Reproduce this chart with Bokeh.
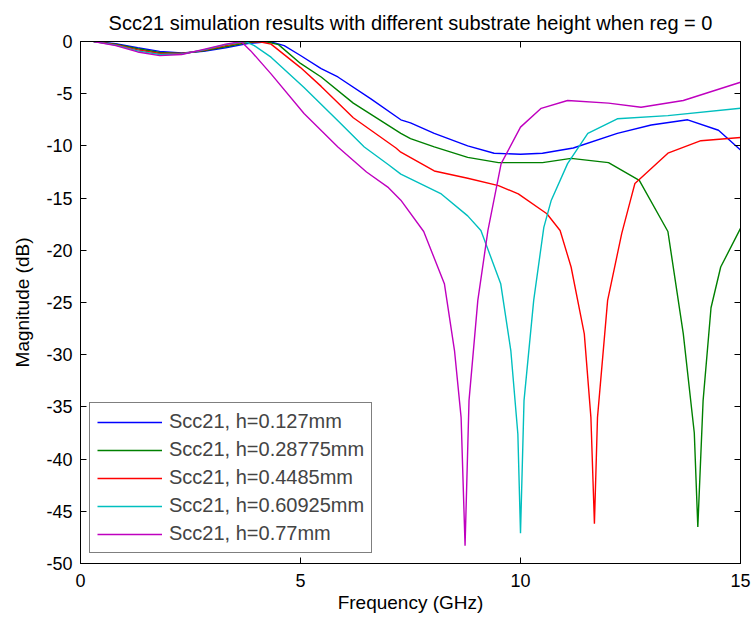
from bokeh.plotting import figure
from bokeh.models import LinearAxis, Legend, LegendItem, FixedTicker, Range1d
from bokeh.embed import file_html
from bokeh.resources import INLINE

# ---- data ----
f_blue = [0.3, 0.8, 1.3, 1.8, 2.3, 2.8, 3.3, 3.8, 4.3, 4.63, 5.0, 5.47, 5.85, 6.6, 7.28, 7.5, 8.04, 8.8, 9.4, 10.0, 10.5, 11.2, 12.2, 12.97, 13.8, 14.5, 15.0]
m_blue = [0, -0.2, -0.6, -0.95, -1.1, -0.95, -0.6, -0.2, 0, -0.4, -1.34, -2.6, -3.4, -5.5, -7.5, -7.8, -8.8, -10.0, -10.7, -10.8, -10.7, -10.2, -8.8, -8.0, -7.5, -8.5, -10.4]

f_green = [0.3, 0.8, 1.3, 1.8, 2.3, 2.8, 3.3, 3.8, 4.2, 4.5, 5.0, 5.47, 6.2, 7.28, 7.5, 8.04, 8.8, 9.5, 10.5, 11.15, 12.0, 12.7, 13.35, 13.7, 13.95, 14.03, 14.15, 14.33, 14.55, 15.0]
m_green = [0, -0.25, -0.7, -1.05, -1.15, -0.9, -0.5, -0.1, 0, -0.3, -2.1, -3.4, -5.9, -8.8, -9.3, -10.1, -11.1, -11.6, -11.6, -11.2, -11.6, -13.3, -18.2, -28.0, -37.5, -46.5, -34.4, -25.5, -21.6, -17.9]

f_red = [0.3, 0.8, 1.3, 1.8, 2.3, 2.8, 3.3, 3.8, 4.1, 4.33, 5.0, 5.47, 6.2, 7.17, 7.28, 8.04, 8.8, 9.5, 9.95, 10.6, 10.9, 11.15, 11.45, 11.6, 11.68, 11.75, 11.98, 12.3, 12.5, 12.6, 13.35, 14.1, 15.0]
m_red = [0, -0.3, -0.8, -1.15, -1.15, -0.85, -0.4, 0, -0.05, -0.25, -2.5, -4.3, -7.3, -10.2, -10.6, -12.4, -13.1, -13.8, -14.6, -16.5, -18.1, -21.6, -28.0, -36.0, -46.2, -36.0, -24.8, -18.4, -15.2, -13.6, -10.7, -9.5, -9.2]

f_cyan = [0.3, 0.8, 1.3, 1.8, 2.3, 2.8, 3.3, 3.75, 3.95, 4.33, 5.08, 5.85, 6.45, 7.0, 7.28, 8.2, 8.8, 9.1, 9.55, 9.78, 9.94, 10.0, 10.08, 10.3, 10.53, 10.7, 11.07, 11.53, 12.2, 13.35, 15.0]
m_cyan = [0, -0.35, -0.9, -1.25, -1.2, -0.8, -0.3, 0, -0.4, -1.5, -4.4, -7.6, -10.1, -11.8, -12.7, -14.6, -16.7, -18.1, -23.2, -29.6, -37.6, -47.1, -34.4, -24.8, -17.8, -15.2, -11.7, -8.8, -7.4, -7.1, -6.4]

f_mag = [0.3, 0.8, 1.3, 1.8, 2.3, 2.8, 3.3, 3.65, 3.87, 4.33, 5.08, 5.85, 6.5, 7.0, 7.28, 7.8, 8.27, 8.5, 8.65, 8.74, 8.83, 9.03, 9.26, 9.56, 10.0, 10.47, 11.07, 12.0, 12.74, 13.7, 15.0]
m_mag = [0, -0.4, -1.0, -1.35, -1.25, -0.75, -0.25, 0, -0.9, -3.1, -6.9, -10.1, -12.5, -14.0, -15.2, -18.2, -23.2, -29.6, -36.0, -48.3, -34.4, -24.8, -18.1, -11.7, -8.2, -6.4, -5.65, -5.9, -6.3, -5.65, -3.9]

labels = ["Scc21, h=0.127mm", "Scc21, h=0.28775mm", "Scc21, h=0.4485mm",
          "Scc21, h=0.60925mm", "Scc21, h=0.77mm"]
colors = ["#0000FF", "#008000", "#FF0000", "#00BFBF", "#BF00BF"]
x_ticks = [0, 5, 10, 15]
y_ticks = [0, -5, -10, -15, -20, -25, -30, -35, -40, -45, -50]

FONT = "Liberation Sans"

p = figure(width=751, height=620, output_backend="svg", toolbar_location=None,
           x_range=Range1d(0, 15), y_range=Range1d(-50, 0),
           min_border_left=80, min_border_right=11, min_border_top=41, min_border_bottom=57)
p.title.text = "Scc21 simulation results with different substrate height when reg = 0"
p.title.align = "center"
p.title.text_font = FONT
p.title.text_font_size = "20px"
p.title.text_font_style = "normal"
p.title.text_color = "black"
p.title.standoff = 16

p.xgrid.visible = False
p.ygrid.visible = False
p.outline_line_color = "black"
p.background_fill_color = "white"
p.border_fill_color = "white"

def style_axis(ax, ticks, show_labels=True):
    ax.ticker = FixedTicker(ticks=ticks)
    ax.major_tick_in = 6
    ax.major_tick_out = 0
    ax.minor_tick_line_color = None
    ax.axis_line_color = "black"
    ax.major_tick_line_color = "black"
    if show_labels:
        ax.major_label_overrides = {t: str(t) for t in ticks}
        ax.major_label_text_font = FONT
        ax.major_label_text_font_size = "18px"
        ax.major_label_text_color = "black"
        ax.axis_label_text_font = FONT
        ax.axis_label_text_font_size = "19px"
        ax.axis_label_text_font_style = "normal"
        ax.axis_label_text_color = "black"
    else:
        ax.major_label_text_font_size = "0px"
        ax.major_label_text_color = None
        ax.major_label_standoff = 0

style_axis(p.xaxis[0], x_ticks)
style_axis(p.yaxis[0], y_ticks)
p.xaxis.axis_label = "Frequency (GHz)"
p.yaxis.axis_label = "Magnitude (dB)"
p.xaxis.major_label_standoff = 10
p.yaxis.major_label_standoff = 8
p.xaxis.axis_label_standoff = 2
p.yaxis.axis_label_standoff = 10

ax_top = LinearAxis()
style_axis(ax_top, x_ticks, show_labels=False)
p.add_layout(ax_top, "above")
ax_right = LinearAxis()
style_axis(ax_right, y_ticks, show_labels=False)
p.add_layout(ax_right, "right")

series = [(f_blue, m_blue), (f_green, m_green), (f_red, m_red), (f_cyan, m_cyan), (f_mag, m_mag)]
items = []
for (fx, my), c, lab in zip(series, colors, labels):
    r = p.line(fx, my, line_color=c, line_width=1.4)
    items.append(LegendItem(label=lab, renderers=[r]))

legend = Legend(items=items, location=(9, 10), margin=0, padding=7, spacing=5,
                glyph_width=65, glyph_height=20, label_height=20, label_standoff=7,
                label_text_font=FONT, label_text_font_size="20px",
                border_line_color="black", border_line_width=1,
                background_fill_color="white", background_fill_alpha=1.0)
p.add_layout(legend, "center")

open("out.html", "w").write(file_html(p, INLINE))
